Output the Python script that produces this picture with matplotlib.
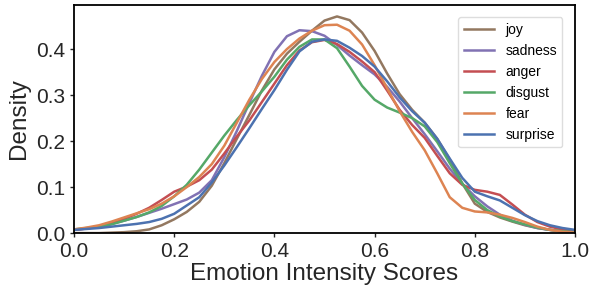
import numpy as np
import matplotlib.pyplot as plt

plt.rcParams['font.family'] = ['Liberation Sans', 'DejaVu Sans']

# Puntos de la curva de densidad, paso de 0.025
x_pts = [round(0.025 * i, 3) for i in range(41)]

joy = [0.0, 0.0, 0.0, 0.001, 0.002, 0.004, 0.008, 0.017, 0.03, 0.046, 0.068,
       0.103, 0.152, 0.205, 0.257, 0.31, 0.356, 0.39, 0.416, 0.44, 0.462,
       0.471, 0.463, 0.436, 0.396, 0.347, 0.302, 0.268, 0.24, 0.205, 0.16,
       0.108, 0.064, 0.046, 0.034, 0.025, 0.017, 0.011, 0.007, 0.004, 0.002]
sadness = [0.007, 0.01, 0.014, 0.02, 0.027, 0.035, 0.044, 0.053, 0.063, 0.073, 0.088,
           0.115, 0.165, 0.222, 0.283, 0.342, 0.394, 0.428, 0.441, 0.439, 0.429,
           0.409, 0.386, 0.365, 0.345, 0.318, 0.286, 0.25, 0.215, 0.178, 0.14,
           0.107, 0.08, 0.058, 0.04, 0.027, 0.018, 0.011, 0.007, 0.004, 0.002]
anger = [0.007, 0.01, 0.015, 0.022, 0.031, 0.042, 0.055, 0.072, 0.09, 0.101, 0.115,
         0.138, 0.173, 0.21, 0.245, 0.285, 0.325, 0.365, 0.397, 0.415, 0.42,
         0.411, 0.394, 0.373, 0.35, 0.31, 0.268, 0.235, 0.207, 0.168, 0.13,
         0.105, 0.094, 0.09, 0.083, 0.062, 0.04, 0.024, 0.014, 0.008, 0.004]
disgust = [0.008, 0.011, 0.014, 0.019, 0.027, 0.035, 0.045, 0.059, 0.08, 0.105, 0.138,
           0.175, 0.212, 0.246, 0.278, 0.308, 0.34, 0.377, 0.405, 0.421, 0.421,
           0.402, 0.362, 0.32, 0.29, 0.273, 0.262, 0.25, 0.232, 0.198, 0.152,
           0.108, 0.072, 0.05, 0.036, 0.026, 0.019, 0.012, 0.007, 0.004, 0.002]
fear = [0.008, 0.012, 0.017, 0.025, 0.034, 0.043, 0.052, 0.064, 0.08, 0.1, 0.122,
        0.15, 0.19, 0.24, 0.29, 0.335, 0.372, 0.4, 0.423, 0.44, 0.452,
        0.453, 0.44, 0.41, 0.365, 0.315, 0.265, 0.22, 0.18, 0.13, 0.078,
        0.055, 0.047, 0.045, 0.04, 0.033, 0.024, 0.014, 0.007, 0.003, 0.001]
surprise = [0.007, 0.009, 0.011, 0.014, 0.017, 0.02, 0.024, 0.031, 0.042, 0.06, 0.078,
            0.11, 0.147, 0.187, 0.228, 0.27, 0.311, 0.355, 0.395, 0.416, 0.421,
            0.418, 0.403, 0.385, 0.362, 0.33, 0.295, 0.265, 0.24, 0.205, 0.162,
            0.12, 0.09, 0.08, 0.071, 0.055, 0.039, 0.026, 0.017, 0.011, 0.007]

series = [('joy', joy, '#937860'),
          ('sadness', sadness, '#8172B3'),
          ('anger', anger, '#C44E52'),
          ('disgust', disgust, '#55A868'),
          ('fear', fear, '#DD8452'),
          ('surprise', surprise, '#4C72B0')]

fig = plt.figure(figsize=(5.94, 2.91), dpi=100)
ax = fig.add_axes([0.1246, 0.199, 0.8434, 0.784])

for nombre, valores, color in series:
    ax.plot(x_pts, valores, color=color, lw=1.8, label=nombre,
            solid_joinstyle='round')

ax.set_xlim(0, 1.0)
ax.set_ylim(0, 0.496)
ax.set_xticks([0.0, 0.2, 0.4, 0.6, 0.8, 1.0])
ax.set_yticks([0.0, 0.1, 0.2, 0.3, 0.4])
ax.tick_params(labelsize=15, colors='#262626', length=3, width=1)
ax.set_xlabel('Emotion Intensity Scores', fontsize=17.5, color='#262626', labelpad=1)
ax.set_ylabel('Density', fontsize=17.5, color='#262626', labelpad=4)
for s in ax.spines.values():
    s.set_linewidth(1.3)
    s.set_color('black')

ax.legend(loc='upper right', fontsize=10, frameon=True, framealpha=1,
          edgecolor='#dddddd', handlelength=2.2, borderaxespad=0.9)

fig.savefig('out.png', dpi=100)
